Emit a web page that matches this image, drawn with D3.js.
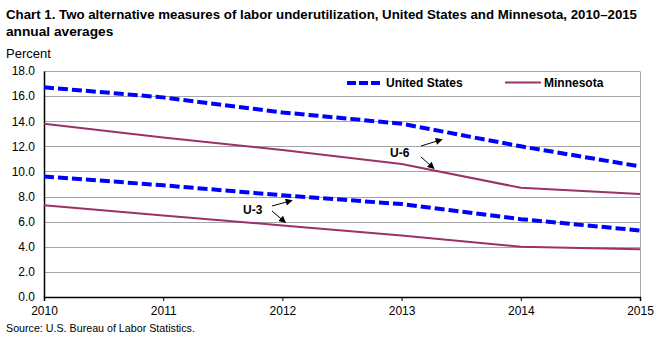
<!DOCTYPE html>
<html>
<head>
<meta charset="utf-8">
<script src="https://cdn.jsdelivr.net/npm/d3@7/dist/d3.min.js"></script>
<style>
  html, body { margin: 0; padding: 0; background: #fff; }
  svg { display: block; font-family: "Liberation Sans", Arial, sans-serif; }
</style>
</head>
<body>
<svg id="chart" width="664" height="341"></svg>
<script>
// Annual averages, percent
const years = [2010, 2011, 2012, 2013, 2014, 2015];
const usU6 = [16.7, 15.9, 14.7, 13.8, 12.0, 10.4];
const usU3 = [9.6, 8.9, 8.1, 7.4, 6.2, 5.3];
const mnU6 = [13.8, 12.7, 11.7, 10.6, 8.7, 8.2];
const mnU3 = [7.3, 6.5, 5.7, 4.9, 4.0, 3.8];
const yTicks = [0, 2, 4, 6, 8, 10, 12, 14, 16, 18];

const svg = d3.select("#chart");
const x = d3.scaleLinear().domain([2010, 2015]).range([44, 640]);
const y = d3.scaleLinear().domain([0, 18]).range([297, 71]);

const blue = "#0000ff";
const maroon = "#993366";
const font = "Liberation Sans, Arial, sans-serif";

// Title
svg.append("text").attr("x", 6).attr("y", 19)
  .attr("font-size", 13.7).attr("font-weight", "bold").attr("fill", "#000")
  .attr("textLength", 631).attr("lengthAdjust", "spacingAndGlyphs")
  .text("Chart 1. Two alternative measures of labor underutilization, United States and Minnesota, 2010\u20132015");
svg.append("text").attr("x", 6).attr("y", 36)
  .attr("font-size", 13.7).attr("font-weight", "bold").attr("fill", "#000")
  .text("annual averages");
svg.append("text").attr("x", 6).attr("y", 58)
  .attr("font-size", 13).attr("fill", "#000").text("Percent");

// Horizontal gridlines
svg.append("g").selectAll("line").data(yTicks.filter(d => d > 0)).join("line")
  .attr("x1", x(2010)).attr("x2", x(2015))
  .attr("y1", d => Math.round(y(d)) + 0.5).attr("y2", d => Math.round(y(d)) + 0.5)
  .attr("stroke", "#a6a6a6").attr("stroke-width", 1);
// Right border
svg.append("line")
  .attr("x1", x(2015) + 0.5).attr("x2", x(2015) + 0.5)
  .attr("y1", Math.round(y(18)) + 0.5).attr("y2", Math.round(y(0)))
  .attr("stroke", "#a6a6a6");

// Y axis
const yAxis = svg.append("g").attr("transform", `translate(${x(2010)},0)`)
  .call(d3.axisLeft(y).tickValues(yTicks).tickFormat(d3.format(".1f")).tickSize(0).tickPadding(9));
yAxis.select(".domain").attr("stroke", "#000").attr("stroke-width", 1.5);
yAxis.selectAll("text").attr("font-size", 12).attr("fill", "#000").attr("font-family", font);

// X axis
const xAxis = svg.append("g").attr("transform", `translate(0,${y(0)})`)
  .call(d3.axisBottom(x).tickValues(years).tickFormat(d3.format("d")).tickSize(4).tickPadding(5));
xAxis.select(".domain").attr("stroke", "#000").attr("stroke-width", 1.5);
xAxis.selectAll(".tick line").attr("stroke", "#000");
xAxis.selectAll("text").attr("font-size", 12).attr("fill", "#000").attr("font-family", font);

// Series lines
const line = d3.line().x((d, i) => x(years[i])).y(d => y(d));
function drawSeries(vals, color, width, dash) {
  svg.append("path").datum(vals).attr("d", line)
    .attr("fill", "none").attr("stroke", color).attr("stroke-width", width)
    .attr("stroke-dasharray", dash || null);
}
drawSeries(mnU6, maroon, 2);
drawSeries(mnU3, maroon, 2);
drawSeries(usU6, blue, 4, "10,4");
drawSeries(usU3, blue, 4, "10,4");

// Legend
const lg = svg.append("g");
lg.append("line").attr("x1", 347).attr("x2", 380).attr("y1", 83).attr("y2", 83)
  .attr("stroke", blue).attr("stroke-width", 4).attr("stroke-dasharray", "9,3");
lg.append("text").attr("x", 386).attr("y", 87).attr("font-size", 12).attr("font-weight", "bold")
  .text("United States");
lg.append("line").attr("x1", 505).attr("x2", 541).attr("y1", 82.5).attr("y2", 82.5)
  .attr("stroke", maroon).attr("stroke-width", 2);
lg.append("text").attr("x", 544).attr("y", 87).attr("font-size", 12).attr("font-weight", "bold")
  .text("Minnesota");

// Annotations
const defs = svg.append("defs");
defs.append("marker").attr("id", "arrow").attr("viewBox", "0 0 10 10")
  .attr("refX", 9).attr("refY", 5).attr("markerWidth", 9).attr("markerHeight", 7)
  .attr("markerUnits", "userSpaceOnUse").attr("orient", "auto")
  .append("path").attr("d", "M0,0 L10,5 L0,10 Z").attr("fill", "#000");

function arrow(x1, y1, x2, y2) {
  svg.append("line").attr("x1", x1).attr("y1", y1).attr("x2", x2).attr("y2", y2)
    .attr("stroke", "#000").attr("stroke-width", 1).attr("marker-end", "url(#arrow)");
}
svg.append("text").attr("x", 390).attr("y", 157).attr("font-size", 12).attr("font-weight", "bold").text("U-6");
arrow(421, 146, 442, 139.5);
arrow(421, 157, 434, 168.5);
svg.append("text").attr("x", 243).attr("y", 214).attr("font-size", 12).attr("font-weight", "bold").text("U-3");
arrow(272, 206, 292, 200.5);
arrow(272, 211, 285.5, 222.5);

// Source
svg.append("text").attr("x", 6).attr("y", 332).attr("font-size", 10.7).attr("fill", "#000")
  .text("Source: U.S. Bureau of Labor Statistics.");
</script>
</body>
</html>
